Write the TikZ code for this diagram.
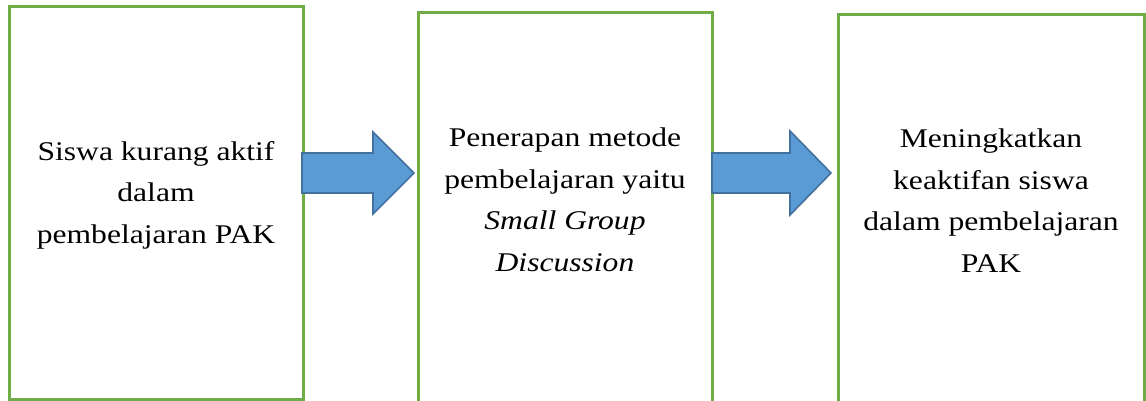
\documentclass[tikz,border=0pt]{standalone}
\usepackage{fontspec}
\setmainfont{Liberation Serif}[FakeStretch=1.17]
\definecolor{boxgreen}{HTML}{70AD47}
\definecolor{arrowfill}{HTML}{5B9BD5}
\definecolor{arrowedge}{HTML}{41719C}
\tikzset{
  flowbox/.style={draw=boxgreen, line width=3pt, fill=none},
  blockarrow/.style={fill=arrowfill, draw=arrowedge, line width=1.6pt, line join=miter},
  txt/.style={align=center, anchor=base, inner sep=0pt, font=\fontsize{27}{41.5}\selectfont}
}
\begin{document}
\begin{tikzpicture}[x=1pt, y=-1pt]
\useasboundingbox (0,0) rectangle (1146,401);
\draw[flowbox] (9,7) rectangle (303,399);
\draw[flowbox] (418,13) rectangle (712,430);
\draw[flowbox] (838,15) rectangle (1144,430);
\node[txt] (t1) at (156,243) {Siswa kurang aktif\\dalam\\pembelajaran PAK};
\node[txt] (t2) at (565,271) {Penerapan metode\\pembelajaran yaitu\\\textit{Small Group}\\\textit{Discussion}};
\node[txt] (t3) at (991,272) {Meningkatkan\\keaktifan siswa\\dalam pembelajaran\\PAK};
\draw[blockarrow] (302,153) -- (373,153) -- (373,132) -- (414,173) -- (373,214) -- (373,193) -- (302,193) -- cycle;
\draw[blockarrow] (712,153) -- (790,153) -- (790,131) -- (831,173) -- (790,215) -- (790,193) -- (712,193) -- cycle;
\end{tikzpicture}
\end{document}
